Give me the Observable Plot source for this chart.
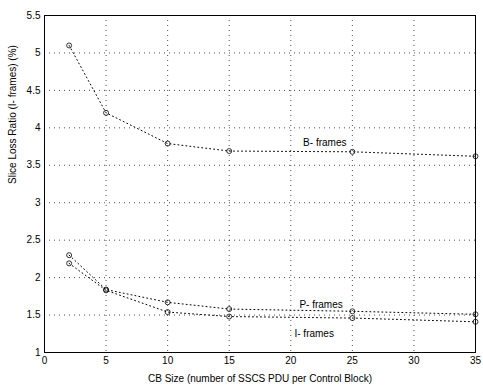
<!DOCTYPE html>
<html><head><meta charset="utf-8">
<script src="https://cdn.jsdelivr.net/npm/d3@7"></script>
<script src="https://cdn.jsdelivr.net/npm/@observablehq/plot@0.6"></script>
<style>body{margin:0;background:#fff;} svg{font-family:"Liberation Sans",Arial,sans-serif;}</style>
</head><body><div id="chart"></div>
<script>
const cbSize = [2, 5, 10, 15, 25, 35];
const bFrames = [5.1, 4.2, 3.79, 3.69, 3.68, 3.62];
const pFrames = [2.3, 1.84, 1.67, 1.58, 1.55, 1.51];
const iFrames = [2.19, 1.83, 1.54, 1.48, 1.46, 1.41];
const xTicks = [0, 5, 10, 15, 20, 25, 30, 35];
const yTicks = [1, 1.5, 2, 2.5, 3, 3.5, 4, 4.5, 5, 5.5];
const seriesLabels = [
  {name: "B- frames", x: 21, y: 3.8},
  {name: "P- frames", x: 20.7, y: 1.64},
  {name: "I- frames", x: 20.3, y: 1.25}
];

const rows = [];
const series = [["B", bFrames], ["P", pFrames], ["I", iFrames]];
for (const [s, vals] of series) cbSize.forEach((x, i) => rows.push({s, x, y: vals[i]}));

const chart = Plot.plot({
  width: 483, height: 386,
  marginLeft: 44, marginRight: 8, marginTop: 15, marginBottom: 34,
  style: {fontSize: "10px", color: "#000"},
  x: {domain: [0, 35], ticks: xTicks, tickSize: 0, tickPadding: 4, label: null},
  y: {domain: [1, 5.5], ticks: yTicks, tickSize: 0, tickPadding: 4, label: null, tickFormat: d => String(d)},
  marks: [
    Plot.gridX(xTicks, {stroke: "#000", strokeOpacity: 0.7, strokeDasharray: "1,4"}),
    Plot.gridY(yTicks, {stroke: "#000", strokeOpacity: 0.7, strokeDasharray: "1,4"}),
    Plot.frame({stroke: "#000", strokeWidth: 1}),
    Plot.line(rows, {x: "x", y: "y", z: "s", stroke: "#000", strokeWidth: 1, strokeDasharray: "1,3"}),
    Plot.dot(rows, {x: "x", y: "y", r: 2.5, stroke: "#000", strokeWidth: 0.8, fill: "none"}),
    Plot.text(seriesLabels, {x: "x", y: "y", text: "name", textAnchor: "start", fontSize: 10}),
    Plot.text(["CB Size (number of SSCS PDU per Control Block)"], {frameAnchor: "bottom", dy: 29, fontSize: 10}),
    Plot.text(["Slice Loss Ratio (I- frames) (%)"], {frameAnchor: "left", dx: -32, rotate: -90, fontSize: 10})
  ]
});
document.getElementById("chart").appendChild(chart);
</script></body></html>
